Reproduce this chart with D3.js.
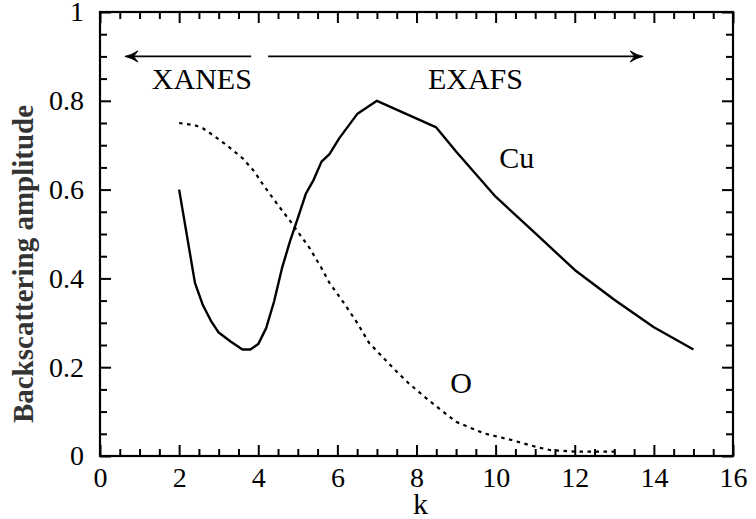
<!DOCTYPE html>
<html>
<head>
<meta charset="utf-8">
<script src="https://cdn.jsdelivr.net/npm/d3@7"></script>
<style>
  html, body { margin: 0; padding: 0; background: #fff; }
  svg { display: block; }
</style>
</head>
<body>
<svg id="chart" width="756" height="519"></svg>
<script>
// Backscattering amplitude versus k for Cu and O neighbours
const cuK   = [2.0, 2.4, 2.6, 2.8, 3.0, 3.3, 3.6, 3.8, 4.0, 4.2, 4.4, 4.6, 4.8, 5.0, 5.2, 5.4, 5.6, 5.8, 6.05, 6.5, 7.0, 8.5, 9.0, 10.0, 11.0, 12.0, 13.0, 14.0, 15.0];
const cuAmp = [0.60, 0.39, 0.34, 0.305, 0.278, 0.258, 0.24, 0.24, 0.252, 0.288, 0.348, 0.423, 0.483, 0.536, 0.59, 0.622, 0.663, 0.68, 0.716, 0.77, 0.80, 0.74, 0.686, 0.584, 0.502, 0.419, 0.352, 0.29, 0.24];

const oK   = [2.0, 2.4, 2.6, 2.9, 3.2, 3.6, 3.9, 4.1, 4.5, 4.8, 5.0, 5.3, 5.6, 5.8, 6.2, 6.5, 6.8, 7.5, 7.8, 8.3, 9.0, 9.7, 10.4, 11.0, 11.4, 12.0, 13.0];
const oAmp = [0.75, 0.745, 0.738, 0.72, 0.70, 0.671, 0.641, 0.614, 0.565, 0.53, 0.505, 0.468, 0.423, 0.39, 0.34, 0.30, 0.255, 0.19, 0.164, 0.126, 0.077, 0.051, 0.036, 0.021, 0.013, 0.01, 0.01];

const xMajorTicks = [0, 2, 4, 6, 8, 10, 12, 14, 16];
const yMajorTicks = [0, 0.2, 0.4, 0.6, 0.8, 1];
const yTickLabels = ["0", "0.2", "0.4", "0.6", "0.8", "1"];

// Region arrows (k ranges) and annotation labels
const xanesArrow = [3.82, 0.63];
const exafsArrow = [4.25, 13.73];
const regionArrowAmp = 0.9;
const annotations = [
  { text: "XANES", k: 1.31, amp: 0.827 },
  { text: "EXAFS", k: 8.29, amp: 0.827 },
  { text: "Cu",    k: 10.09, amp: 0.649 },
  { text: "O",     k: 8.85, amp: 0.142 }
];

const FONT = "Times New Roman, Times, Liberation Serif, Tinos, Nimbus Roman, FreeSerif, Noto Serif, DejaVu Serif, serif";

const svg = d3.select("#chart");
const margin = { left: 100, right: 23, top: 12, bottom: 63 };
const W = 756, H = 519;
const x = d3.scaleLinear().domain([0, 16]).range([margin.left, W - margin.right]);
const y = d3.scaleLinear().domain([0, 1]).range([H - margin.bottom, margin.top]);

const x0 = x.range()[0], x1 = x.range()[1];
const y0 = y.range()[0], y1 = y.range()[1];

const xMinor = d3.range(0, 16.01, 0.5).filter(v => Math.abs(v / 2 - Math.round(v / 2)) > 1e-6);
const yMinor = d3.range(0, 1.001, 0.05).filter(v => Math.abs(v / 0.2 - Math.round(v / 0.2)) > 1e-6);

function styleAxis(g) {
  g.attr("font-family", FONT);
  g.select(".domain").remove();
  g.selectAll(".tick line").attr("stroke", "#000").attr("stroke-width", 2);
  g.selectAll(".tick text").attr("fill", "#000").attr("font-size", 28)
    .attr("font-family", FONT);
}

// Bottom axis: major ticks with labels, minor ticks without
svg.append("g").attr("transform", `translate(0,${y0})`)
  .call(d3.axisBottom(x).tickValues(xMajorTicks).tickSize(-11).tickSizeOuter(0).tickPadding(11).tickFormat(d3.format("d")))
  .call(styleAxis);
svg.append("g").attr("transform", `translate(0,${y0})`)
  .call(d3.axisBottom(x).tickValues(xMinor).tickSize(-7).tickSizeOuter(0).tickFormat(""))
  .call(styleAxis);

// Top axis, mirrored ticks
svg.append("g").attr("transform", `translate(0,${y1})`)
  .call(d3.axisTop(x).tickValues(xMajorTicks).tickSize(-11).tickSizeOuter(0).tickFormat(""))
  .call(styleAxis);
svg.append("g").attr("transform", `translate(0,${y1})`)
  .call(d3.axisTop(x).tickValues(xMinor).tickSize(-7).tickSizeOuter(0).tickFormat(""))
  .call(styleAxis);

// Left axis with labels
svg.append("g").attr("transform", `translate(${x0},0)`)
  .call(d3.axisLeft(y).tickValues(yMajorTicks).tickSize(-11).tickSizeOuter(0).tickPadding(16)
    .tickFormat((d, i) => yTickLabels[i]))
  .call(styleAxis);
svg.append("g").attr("transform", `translate(${x0},0)`)
  .call(d3.axisLeft(y).tickValues(yMinor).tickSize(-7).tickSizeOuter(0).tickFormat(""))
  .call(styleAxis);

// Right axis, mirrored ticks
svg.append("g").attr("transform", `translate(${x1},0)`)
  .call(d3.axisRight(y).tickValues(yMajorTicks).tickSize(-11).tickSizeOuter(0).tickFormat(""))
  .call(styleAxis);
svg.append("g").attr("transform", `translate(${x1},0)`)
  .call(d3.axisRight(y).tickValues(yMinor).tickSize(-7).tickSizeOuter(0).tickFormat(""))
  .call(styleAxis);

// Plot frame
svg.append("rect")
  .attr("x", x0).attr("y", y1).attr("width", x1 - x0).attr("height", y0 - y1)
  .attr("fill", "none").attr("stroke", "#000").attr("stroke-width", 2.2);

const line = d3.line().x(d => x(d[0])).y(d => y(d[1]));

// Cu: solid curve
svg.append("path")
  .datum(cuK.map((k, i) => [k, cuAmp[i]]))
  .attr("d", line)
  .attr("fill", "none").attr("stroke", "#000").attr("stroke-width", 2.4)
  .attr("stroke-linejoin", "round");

// O: dotted curve
svg.append("path")
  .datum(oK.map((k, i) => [k, oAmp[i]]))
  .attr("d", line)
  .attr("fill", "none").attr("stroke", "#000").attr("stroke-width", 2.2)
  .attr("stroke-dasharray", "3.5,4.5");

// Region arrows
function arrow(kFrom, kTo) {
  const ya = y(regionArrowAmp);
  const xa = x(kFrom), xb = x(kTo);
  const dir = xb > xa ? 1 : -1;
  svg.append("line")
    .attr("x1", xa).attr("y1", ya).attr("x2", xb - dir * 4).attr("y2", ya)
    .attr("stroke", "#000").attr("stroke-width", 1.8);
  const L = 13, hw = 5.5, back = 8.5;
  svg.append("path")
    .attr("d", `M${xb},${ya} Q${xb - dir * 6},${ya - 1} ${xb - dir * L},${ya - hw}` +
               ` L${xb - dir * back},${ya} L${xb - dir * L},${ya + hw}` +
               ` Q${xb - dir * 6},${ya + 1} ${xb},${ya} Z`)
    .attr("fill", "#000").attr("stroke", "#000").attr("stroke-width", 1)
    .attr("stroke-linejoin", "round");
}
arrow(xanesArrow[0], xanesArrow[1]);
arrow(exafsArrow[0], exafsArrow[1]);

// Annotation labels
svg.selectAll("text.annot")
  .data(annotations)
  .enter().append("text")
  .attr("class", "annot")
  .attr("x", d => x(d.k)).attr("y", d => y(d.amp))
  .attr("font-family", FONT)
  .attr("font-size", 30).attr("fill", "#000")
  .text(d => d.text);

// Axis titles
svg.append("text")
  .attr("x", (x0 + x1) / 2 + 4).attr("y", 514)
  .attr("text-anchor", "middle")
  .attr("font-family", FONT)
  .attr("font-size", 30).attr("fill", "#000")
  .text("k");

svg.append("text")
  .attr("transform", `translate(33,264) rotate(-90)`)
  .attr("text-anchor", "middle")
  .attr("font-family", FONT)
  .attr("font-size", 29).attr("font-weight", "bold").attr("fill", "#333")
  .text("Backscattering amplitude");
</script>
</body>
</html>
